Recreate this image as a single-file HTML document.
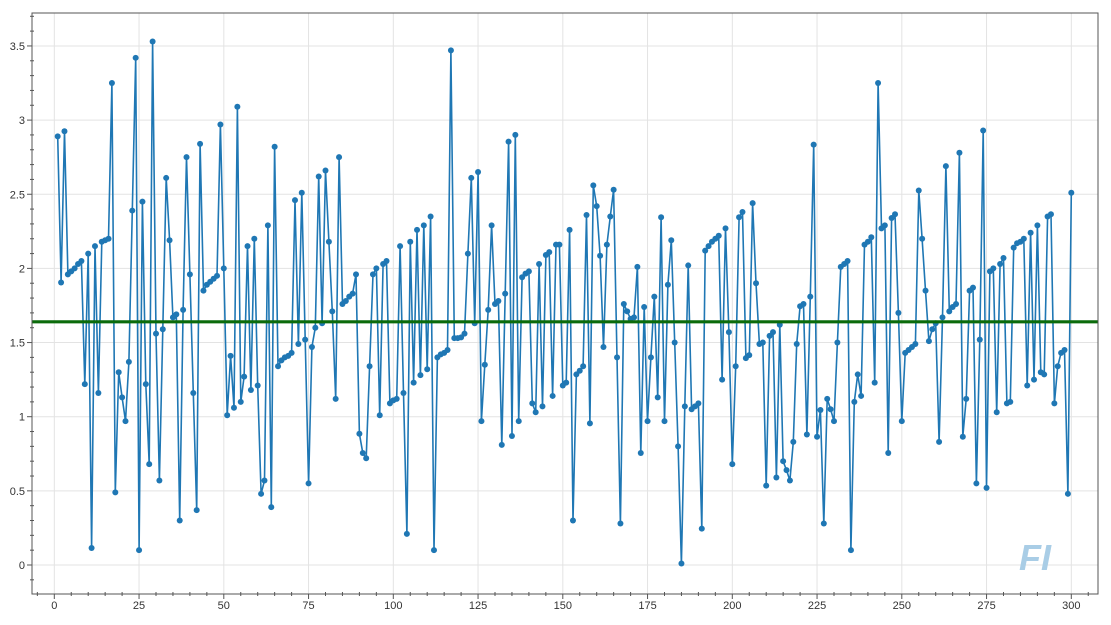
<!DOCTYPE html>
<html><head><meta charset="utf-8"><style>
html,body{margin:0;padding:0;background:#fff;}
svg{display:block;font-family:"Liberation Sans","DejaVu Sans",sans-serif;}
</style></head><body>
<svg id="chart" width="1111" height="625" viewBox="0 0 1111 625" xmlns="http://www.w3.org/2000/svg">
<g id="grid"></g>
<g id="axes"></g>
<g id="series"></g>
<text x="1035" y="570" text-anchor="middle" font-size="36" font-weight="bold" font-style="italic" fill="#a9cde6">FI</text>
<rect x="32" y="13" width="1066" height="581" fill="none" stroke="#555" stroke-width="1"/>
</svg>
<script>
const values = [2.89,1.905,2.925,1.96,1.98,2.0,2.03,2.05,1.22,2.10,0.115,2.15,1.16,2.18,2.19,2.2,3.25,0.49,1.30,1.13,
0.97,1.37,2.39,3.42,0.10,2.45,1.22,0.68,3.53,1.56,0.57,1.59,2.61,2.19,1.67,1.69,0.30,1.72,2.75,1.96,
1.16,0.37,2.84,1.85,1.89,1.91,1.93,1.95,2.97,2.0,1.01,1.41,1.06,3.09,1.10,1.27,2.15,1.18,2.20,1.21,
0.48,0.57,2.29,0.39,2.82,1.34,1.38,1.40,1.41,1.43,2.46,1.49,2.51,1.52,0.55,1.47,1.60,2.62,1.63,2.66,
2.18,1.71,1.12,2.75,1.76,1.78,1.81,1.83,1.96,0.885,0.755,0.72,1.34,1.96,2.0,1.01,2.03,2.05,1.09,1.11,
1.12,2.15,1.16,0.21,2.18,1.23,2.26,1.28,2.29,1.32,2.35,0.10,1.40,1.42,1.43,1.45,3.47,1.53,1.53,1.535,
1.56,2.1,2.61,1.63,2.65,0.97,1.35,1.72,2.29,1.76,1.78,0.81,1.83,2.855,0.87,2.90,0.97,1.94,1.965,1.98,
1.09,1.03,2.03,1.07,2.09,2.11,1.14,2.16,2.16,1.21,1.23,2.26,0.30,1.285,1.31,1.34,2.36,0.955,2.56,2.42,
2.085,1.47,2.16,2.35,2.53,1.4,0.28,1.76,1.71,1.66,1.67,2.01,0.755,1.74,0.97,1.4,1.81,1.13,2.345,0.97,
1.89,2.19,1.5,0.8,0.01,1.07,2.02,1.05,1.07,1.09,0.245,2.12,2.15,2.18,2.20,2.22,1.25,2.27,1.57,0.68,
1.34,2.345,2.38,1.395,1.415,2.44,1.9,1.49,1.50,0.535,1.545,1.57,0.59,1.62,0.70,0.64,0.57,0.83,1.49,1.745,
1.76,0.88,1.81,2.835,0.865,1.045,0.28,1.12,1.05,0.97,1.5,2.01,2.03,2.05,0.10,1.10,1.285,1.14,2.16,2.18,
2.21,1.23,3.25,2.27,2.29,0.755,2.34,2.365,1.7,0.97,1.43,1.45,1.47,1.49,2.525,2.2,1.85,1.51,1.59,1.63,
0.83,1.67,2.69,1.71,1.74,1.76,2.78,0.865,1.12,1.85,1.87,0.55,1.52,2.93,0.52,1.98,2.0,1.03,2.03,2.07,
1.09,1.10,2.14,2.17,2.18,2.20,1.21,2.24,1.25,2.29,1.30,1.285,2.35,2.365,1.09,1.34,1.43,1.45,0.48,2.51];
const meanValue = 1.64;
const xTicks = [0,25,50,75,100,125,150,175,200,225,250,275,300];
const yTicks = [0,0.5,1,1.5,2,2.5,3,3.5];

const NS="http://www.w3.org/2000/svg";
function X(i){return 54.3 + i*3.39;}
function Y(v){return 565 - v*148.3;}
function mk(tag,attrs,parent){const e=document.createElementNS(NS,tag);for(const k in attrs)e.setAttribute(k,attrs[k]);parent.appendChild(e);return e;}
const grid=document.getElementById('grid'),axes=document.getElementById('axes'),series=document.getElementById('series');

xTicks.forEach(t=>{
  const g=mk('line',{x1:X(t),x2:X(t),y1:13,y2:594,stroke:'#e3e3e3','stroke-width':1},grid);
  
  
  const tk=mk('line',{x1:X(t),x2:X(t),y1:594,y2:599,stroke:'#555','stroke-width':1},axes);
  
  
  const lb=mk('text',{x:X(t),y:609,'text-anchor':'middle','font-size':11,fill:'#333'},axes);
  lb.textContent=String(t);
  
  
});
for(let t=-5;t<=305;t+=5){
  if(t%25===0) continue;
  const m=mk('line',{x1:X(t),x2:X(t),y1:592,y2:596,stroke:'#555','stroke-width':1},axes);
  
  
}
yTicks.forEach(t=>{
  const g=mk('line',{x1:32,x2:1098,y1:Y(t),y2:Y(t),stroke:'#e3e3e3','stroke-width':1},grid);
  
  
  const tk=mk('line',{x1:27,x2:32,y1:Y(t),y2:Y(t),stroke:'#555','stroke-width':1},axes);
  
  
  const lb=mk('text',{x:25,y:Y(t)+4,'text-anchor':'end','font-size':11,fill:'#333'},axes);
  lb.textContent=String(t);
  
  
});
for(let k=-1;k<=37;k++){
  if(k%5===0) continue;
  const m=mk('line',{x1:30,x2:34,y1:Y(k/10),y2:Y(k/10),stroke:'#555','stroke-width':1},axes);
  
  
}

const pts=values.map((v,i)=>X(i+1).toFixed(1)+','+Y(v).toFixed(1)).join(' ');
const pl=mk('polyline',{points:pts,fill:'none',stroke:'#1f77b4','stroke-width':1.6,'stroke-linejoin':'round'},series);


values.forEach((v,i)=>{
  const c=mk('circle',{cx:X(i+1),cy:Y(v),r:3,fill:'#1f77b4'},series);
  
  
});
const ml=mk('line',{x1:32,x2:1098,y1:Y(meanValue),y2:Y(meanValue),stroke:'#0b6b0b','stroke-width':3.2},series);


</script>
</body></html>
